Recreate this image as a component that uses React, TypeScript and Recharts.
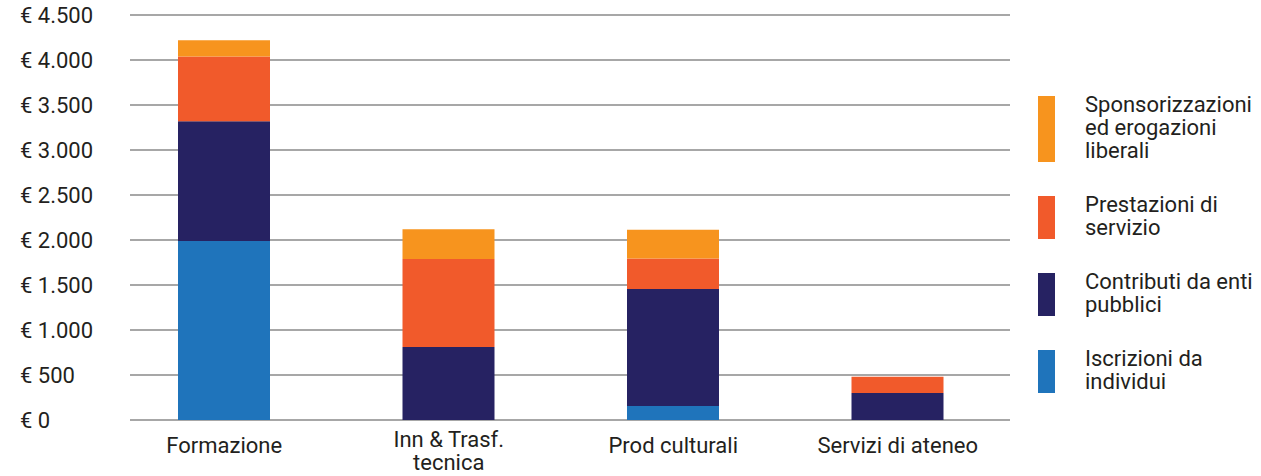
import { BarChart, Bar, XAxis, YAxis, CartesianGrid, Legend } from 'recharts';

const categories = ['Formazione', 'Inn & Trasf.\ntecnica', 'Prod culturali', 'Servizi di ateneo'];
const iscrizioni = [1990, 0, 155, 0];
const contributi = [1330, 810, 1300, 300];
const prestazioni = [720, 980, 340, 180];
const sponsorizzazioni = [180, 330, 320, 0];
const yTicks = [0, 500, 1000, 1500, 2000, 2500, 3000, 3500, 4000, 4500];

const series = [
  { key: 'iscrizioni', name: 'Iscrizioni da individui', color: '#1f74bb' },
  { key: 'contributi', name: 'Contributi da enti pubblici', color: '#262262' },
  { key: 'prestazioni', name: 'Prestazioni di servizio', color: '#f15a2b' },
  { key: 'sponsorizzazioni', name: 'Sponsorizzazioni ed erogazioni liberali', color: '#f7941e' },
];

const data = categories.map((c, i) => ({
  name: c,
  iscrizioni: iscrizioni[i],
  contributi: contributi[i],
  prestazioni: prestazioni[i],
  sponsorizzazioni: sponsorizzazioni[i],
}));

const FONT = 'Roboto, "Noto Sans", sans-serif';
const TEXT = '#231f20';

const euro = (v: number) => '€ ' + String(v).replace(/\B(?=(\d{3})+(?!\d))/g, '.');

function YTick({ y, payload }: any) {
  return (
    <text x={20} y={y} dy={8} textAnchor="start" fill={TEXT} fontSize={22} fontFamily={FONT}>
      {euro(payload.value)}
    </text>
  );
}

function XTick({ x, y, payload }: any) {
  const lines = String(payload.value).split('\n');
  const first = lines.length > 1 ? 19 : 25;
  return (
    <text x={x} y={y} textAnchor="middle" fill={TEXT} fontSize={22} fontFamily={FONT}>
      {lines.map((l, i) => (
        <tspan key={i} x={x} dy={i === 0 ? first : 23}>
          {l}
        </tspan>
      ))}
    </text>
  );
}

function LegendBox({ payload }: any) {
  const items = series
    .map((s) => (payload || []).find((p: any) => p.value === s.name) || { value: s.name, color: s.color })
    .reverse();
  return (
    <div style={{ fontFamily: FONT, fontSize: 22, color: TEXT, lineHeight: '23px', width: 223 }}>
      {items.map((it: any) => (
        <div key={it.value} style={{ display: 'flex', alignItems: 'stretch', marginBottom: 32 }}>
          <div style={{ width: 17, background: it.color, flex: 'none', marginBottom: 2 }} />
          <div style={{ marginLeft: 30, width: 176, marginTop: -3, marginBottom: 2 }}>{it.value}</div>
        </div>
      ))}
    </div>
  );
}

export default function App() {
  return (
    <div style={{ position: 'absolute', left: 0, top: 0 }}>
      <BarChart
        width={1261}
        height={476}
        data={data}
        margin={{ top: 15, right: 28, left: 0, bottom: 0 }}
        barSize={92}
      >
        <CartesianGrid vertical={false} stroke="#a7a7a7" strokeWidth={2} />
        <XAxis
          dataKey="name"
          axisLine={false}
          tickLine={false}
          height={56}
          interval={0}
          padding={{ left: -18, right: 0 }}
          tick={<XTick />}
        />
        <YAxis
          domain={[0, 4500]}
          ticks={yTicks}
          width={130}
          axisLine={false}
          tickLine={false}
          tick={<YTick />}
        />
        <Legend
          content={<LegendBox />}
          layout="vertical"
          align="right"
          verticalAlign="top"
          wrapperStyle={{ left: 1038, top: 96, width: 223 }}
        />
        {series.map((s) => (
          <Bar
            key={s.key}
            dataKey={s.key}
            name={s.name}
            stackId="a"
            fill={s.color}
            isAnimationActive={false}
          />
        ))}
      </BarChart>
    </div>
  );
}
